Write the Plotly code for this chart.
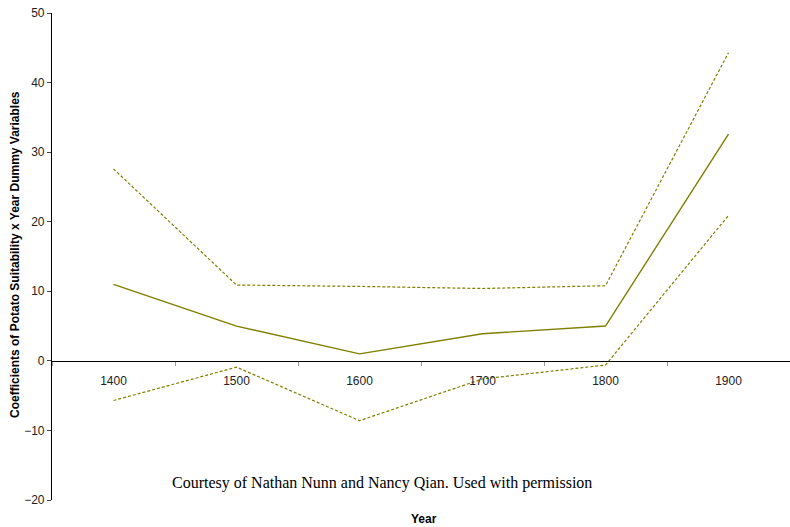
import plotly.graph_objects as go

# Century categories and estimated coefficients with 95% confidence bounds
years = ["1400", "1500", "1600", "1700", "1800", "1900"]
coef = [11.0, 5.0, 1.0, 3.9, 5.0, 32.6]
upper = [27.6, 10.9, 10.7, 10.4, 10.8, 44.3]
lower = [-5.7, -0.9, -8.6, -2.6, -0.6, 20.9]

y_ticks = [-20, -10, 0, 10, 20, 30, 40, 50]
olive = "#7f7f00"

fig = go.Figure()
fig.add_trace(go.Scatter(x=years, y=upper, mode="lines",
                         line=dict(color=olive, width=1.2, dash="3px,2px")))
fig.add_trace(go.Scatter(x=years, y=coef, mode="lines",
                         line=dict(color=olive, width=1.4)))
fig.add_trace(go.Scatter(x=years, y=lower, mode="lines",
                         line=dict(color=olive, width=1.2, dash="3px,2px")))

fig.update_layout(
    width=790, height=527,
    margin=dict(l=52, r=0, t=13, b=27),
    paper_bgcolor="white", plot_bgcolor="white",
    showlegend=False,
    font=dict(family="Arial, Liberation Sans, sans-serif", size=12, color="#222"),
    xaxis=dict(
        type="category", range=[-0.5, 5.5],
        anchor="free", position=20 / 70,
        showline=True, linecolor="black", linewidth=1.2,
        showgrid=False, zeroline=False,
        tickson="boundaries", ticks="outside", ticklen=4, tickcolor="#999",
        ticklabelstandoff=9,
        tickfont=dict(size=12, color="#222"),
    ),
    yaxis=dict(
        range=[-20, 50], tickvals=y_ticks,
        showline=True, linecolor="black", linewidth=1.2,
        showgrid=False, zeroline=False,
        ticks="outside", ticklen=4, tickcolor="#444",
        tickfont=dict(size=12, color="#222"),
    ),
    annotations=[
        dict(text="<b>Coefficients of Potato Suitability x Year Dummy Variables</b>",
             xref="paper", yref="paper", x=-37 / 738, y=(500 - 255) / 487,
             textangle=-90,
             showarrow=False, font=dict(size=12, color="black"),
             xanchor="center", yanchor="middle"),
        dict(text="<b>Year</b>", xref="paper", yref="paper",
             x=(424 - 52) / 738, y=-19 / 487, showarrow=False,
             font=dict(size=12, color="black"), xanchor="center", yanchor="middle"),
        dict(text="Courtesy of Nathan Nunn and Nancy Qian. Used with permission",
             xref="paper", yref="paper", x=(382 - 52) / 738, y=(500 - 483) / 487,
             showarrow=False,
             font=dict(family="Liberation Serif, Times New Roman, serif", size=16,
                       color="black"),
             xanchor="center", yanchor="middle"),
    ],
)

fig.write_html("out.html")
